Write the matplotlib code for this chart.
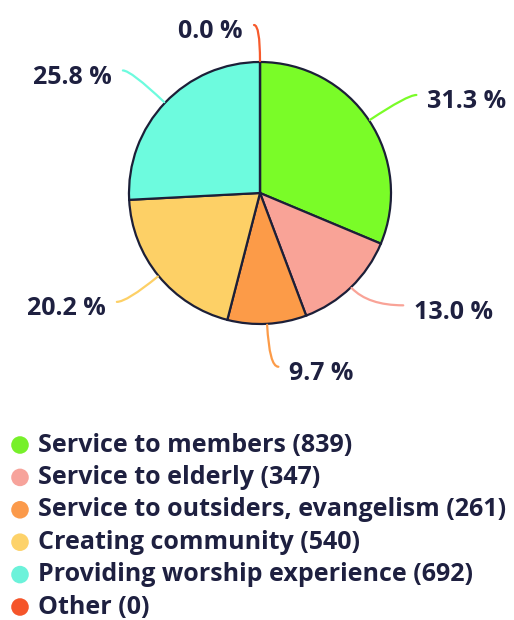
import numpy as np
import matplotlib.pyplot as plt
from matplotlib.path import Path
from matplotlib.patches import PathPatch

# Answers per category
categories = [
    "Service to members",
    "Service to elderly",
    "Service to outsiders, evangelism",
    "Creating community",
    "Providing worship experience",
    "Other",
]
counts = [839, 347, 261, 540, 692, 0]

slice_colors = ["#7afc28", "#f9a397", "#fc9b48", "#fdd066", "#6dfbde", "#f75a2c"]
legend_colors = ["#77f02a", "#f7a39b", "#fb9a4b", "#fdd26a", "#6cf2da", "#f5552a"]
text_color = "#1e2040"
edge_color = "#1c1f38"
font = dict(fontsize=18, fontweight="bold", family="Open Sans", color=text_color)

W, H = 514, 620
fig = plt.figure(figsize=(W / 100, H / 100), dpi=100)
ax = fig.add_axes([0, 0, 1, 1])

cx, cy, radius = 260, H - 193, 131
wedges, _ = ax.pie(counts, colors=slice_colors, startangle=90, counterclock=False,
                   center=(cx, cy), radius=radius,
                   wedgeprops=dict(edgecolor=edge_color, linewidth=1.6))
ax.set_xlim(0, W)
ax.set_ylim(0, H)
ax.set_aspect("equal")
ax.axis("off")

# leader lines: radial out to an elbow, then a short horizontal hook
elbow_r = [177, 156, 174, 172, 178, 168]
hook = [9, 35, 9, 10, 8, 6]
total = sum(counts)
for w, n, col, er, hk in zip(wedges, counts, slice_colors, elbow_r, hook):
    ang = np.deg2rad((w.theta1 + w.theta2) / 2)
    c, s = np.cos(ang), np.sin(ang)
    side = 1 if c > 0.02 else -1
    p0 = (cx + (radius + 1) * c, cy + (radius + 1) * s)
    p1 = (cx + er * c, cy + er * s)
    p2 = (p1[0] + side * hk, p1[1])
    path = Path([p0, p1, p2], [Path.MOVETO, Path.CURVE3, Path.CURVE3])
    ax.add_patch(PathPatch(path, facecolor="none", edgecolor=col, lw=1.6,
                           capstyle="round"))
    ax.text(p2[0] + side * 11, p2[1] - 7, f"{100 * n / total:.1f} %",
            ha="left" if side > 0 else "right", va="center", **font)

# legend
for i, (name, n, col) in enumerate(zip(categories, counts, legend_colors)):
    y = H - (445 + i * 32.4)
    ax.scatter([20], [y], s=160, color=col, edgecolors="none")
    ax.text(38, y, f"{name} ({n})", ha="left", va="center", **font)

fig.savefig("out.png", dpi=100, facecolor="white")
